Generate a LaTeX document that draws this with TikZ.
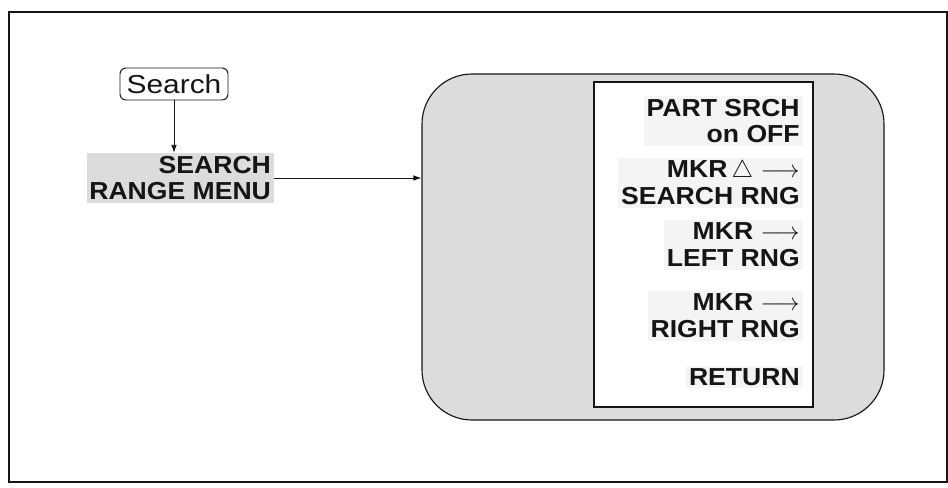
\documentclass[tikz,border=0pt]{standalone}
\usepackage{fontspec}
\setmainfont{Liberation Sans}
\newfontfamily\keyfont[FakeStretch=1.15]{Liberation Sans}
\newfontfamily\menufont[FakeStretch=1.08]{Liberation Sans}
\usetikzlibrary{arrows.meta,positioning,calc}
\definecolor{Ink}{HTML}{151515}
\definecolor{Tone}{HTML}{DCDCDC}
\definecolor{Faint}{HTML}{F4F4F4}
\tikzset{>=Latex,
 every node/.style={text=Ink},
 arr/.style={-{Latex[length=2mm,width=1.4mm]},line width=.6pt,draw=Ink},
 frame/.style={draw=Ink,line width=1.2pt},
 key/.style={draw=Ink,line width=.7pt,rounded corners=.15cm,minimum width=2.7cm,minimum height=.8cm,font=\keyfont\fontsize{18.5}{20}\selectfont},
 title/.style={fill=Tone,align=right,inner sep=2pt,font=\menufont\bfseries\fontsize{17.5}{19}\selectfont},
 panel/.style={draw=Ink,fill=Tone,line width=.8pt,rounded corners=1.25cm,minimum width=11.55cm,minimum height=8.65cm},
 list/.style={draw=Ink,fill=white,line width=.8pt,minimum width=5.475cm,minimum height=8.125cm},
 softkey/.style={fill=Faint,align=right,anchor=east,inner sep=2pt,font=\menufont\bfseries\fontsize{17.5}{19}\selectfont},
 }

\begin{document}
\begin{tikzpicture}[x=1cm,y=1cm]
 \useasboundingbox (0,0) rectangle (23.7,12.175);
 \draw[frame] (.225,.125) rectangle (23.675,11.875);
 \node[key] (search) at (4.35,10.075) {Search};
 \node[title,anchor=east] (range) at (6.85,7.725) {SEARCH\\RANGE MENU};
 \node[panel] (panel) at (16.325,6) {};
 \node[list] (list) at (17.5875,6.0625) {};
 \node[softkey] (part) at (20.07,9.15) {PART SRCH\\on OFF};
 \node[softkey] (delta) at (20.07,7.6) {MKR\,$\bigtriangleup$ $\longrightarrow$\\SEARCH RNG};
 \node[softkey] (left) at (20.07,6.05) {MKR $\longrightarrow$\\LEFT RNG};
 \node[softkey] (right) at (20.07,4.275) {MKR $\longrightarrow$\\RIGHT RNG};
 \node[softkey] (return) at (20.07,2.75) {RETURN};
 \draw[arr] (search) -- (search |- range.north);
 \draw[arr] (range.east) -- (range.east -| panel.west);
\end{tikzpicture}
\end{document}
